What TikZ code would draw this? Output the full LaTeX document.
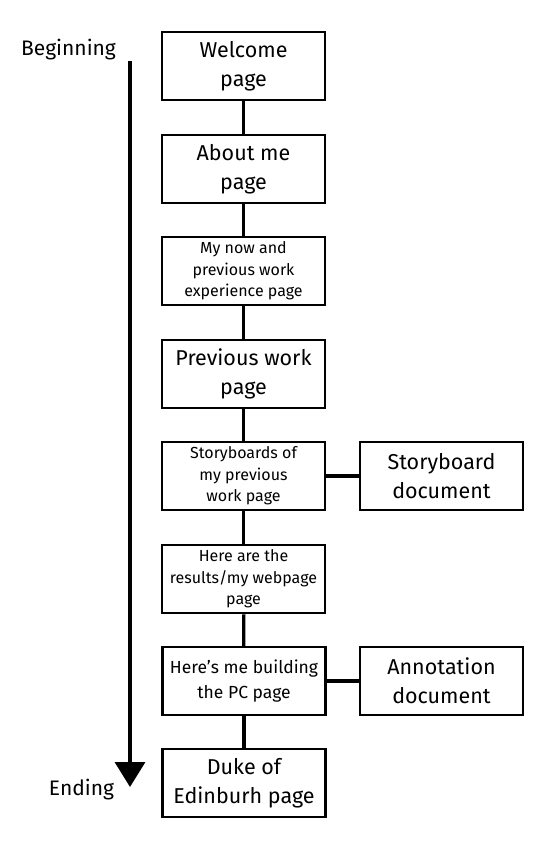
\documentclass[tikz,border=0pt]{standalone}
\usepackage{fontspec}
\setmainfont{Fira Sans}
\usetikzlibrary{arrows.meta}
\begin{document}
\begin{tikzpicture}[x=1pt,y=-1pt,
  pagebox/.style={draw,line width=2.5pt,minimum width=163pt,minimum height=68pt,inner sep=0pt,align=center,font=\fontsize{21.5}{29}\selectfont},
  smallbox/.style={pagebox,font=\fontsize{16}{21.5}\selectfont},
  midbox/.style={pagebox,font=\fontsize{17.5}{25}\selectfont},
  link/.style={line width=3.2pt},
  lbl/.style={anchor=base,font=\fontsize{21}{26}\selectfont,inner sep=0pt}]
\useasboundingbox (0,0) rectangle (554,867);
\node[pagebox] (n1) at (243.5,66) {Welcome\\page};
\node[pagebox] (n2) at (243.5,169) {About me\\page};
\node[smallbox] (n3) at (243.5,271) {My now and\\previous work\\experience page};
\node[pagebox] (n4) at (243.5,374) {Previous work\\page};
\node[smallbox] (n5) at (243.5,476) {Storyboards of\\my previous\\work page};
\node[smallbox] (n6) at (243.5,579) {Here are the\\results/my webpage\\page};
\node[midbox] (n7) at (244,681) {Here's me building\\the PC page};
\node[pagebox] (n8) at (244,783) {Duke of\\Edinburh page};
\node[pagebox] (s1) at (441.5,476) {Storyboard\\document};
\node[pagebox] (s2) at (441.5,681) {Annotation\\document};
\draw[link] (n1) -- (n2);
\draw[link] (n2) -- (n3);
\draw[link] (n3) -- (n4);
\draw[link] (n4) -- (n5);
\draw[link] (n5) -- (n6);
\draw[link] (n6) -- (n7);
\draw[link] (n7) -- (n8);
\draw[link] (n5) -- (s1);
\draw[link] (n7) -- (s2);
\coordinate (top) at (130,61);
\coordinate (bot) at (130,787);
\draw[line width=3.5pt,-{Triangle[width=30pt,length=25pt]}] (top) -- (bot);
\node[lbl] (beg) at (68.5,56) {Beginning};
\node[lbl] (end) at (81.5,795) {Ending};
\end{tikzpicture}
\end{document}
